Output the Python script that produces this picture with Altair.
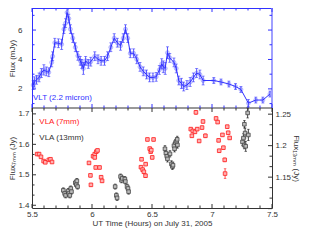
import altair as alt
import pandas as pd

# ---------------- data ----------------
vlt_t = [5.510, 5.519, 5.538, 5.559, 5.578, 5.599, 5.619, 5.640, 5.664, 5.672,
         5.690, 5.720, 5.747, 5.766, 5.780, 5.792, 5.807, 5.820, 5.840, 5.861,
         5.882, 5.902, 5.915, 5.928, 5.947, 5.969, 5.990, 6.023, 6.050, 6.076,
         6.104, 6.130, 6.157, 6.185, 6.211, 6.238, 6.260, 6.279, 6.298, 6.319,
         6.347, 6.373, 6.400, 6.427, 6.454, 6.480, 6.508, 6.535, 6.561, 6.581,
         6.594, 6.610, 6.629, 6.648, 6.683, 6.702, 6.723, 6.745, 6.764, 6.791,
         6.818, 6.845, 6.872, 6.899, 6.926, 7.015, 7.075, 7.141, 7.196, 7.241,
         7.303, 7.365, 7.424, 7.483]
vlt_v = [2.26, 2.47, 2.62, 2.78, 3.08, 3.29, 3.19, 3.13, 3.80, 4.22,
         5.14, 5.10, 5.03, 6.06, 6.47, 7.19, 6.78, 6.06, 5.45, 4.83,
         4.25, 3.91, 3.70, 3.39, 3.91, 3.70, 3.85, 4.22, 4.01, 3.91,
         3.91, 4.22, 4.83, 5.45, 5.14, 4.93, 5.45, 6.06, 5.45, 4.42,
         4.42, 4.01, 3.50, 3.19, 2.98, 2.78, 2.78, 2.82, 3.29, 3.70,
         3.50, 3.39, 4.46, 4.11, 3.80, 3.39, 2.57, 2.37, 2.16, 2.26,
         2.47, 2.78, 3.08, 2.98, 2.57, 2.57, 2.47, 2.33, 2.16, 1.96,
         1.03, 1.24, 1.24, 1.65]
vlt_e = [0.30, 0.35, 0.30, 0.30, 0.30, 0.35, 0.30, 0.30, 0.30, 0.30,
         0.30, 0.30, 0.35, 0.30, 0.30, 0.30, 0.30, 0.30, 0.30, 0.30,
         0.30, 0.30, 0.30, 0.40, 0.30, 0.30, 0.30, 0.30, 0.30, 0.30,
         0.30, 0.30, 0.30, 0.30, 0.30, 0.30, 0.30, 0.30, 0.30, 0.30,
         0.30, 0.30, 0.30, 0.30, 0.30, 0.30, 0.30, 0.30, 0.30, 0.35,
         0.40, 0.40, 0.40, 0.30, 0.30, 0.30, 0.30, 0.35, 0.30, 0.30,
         0.30, 0.30, 0.30, 0.30, 0.30, 0.20, 0.20, 0.20, 0.20, 0.20,
         0.25, 0.20, 0.20, 0.20]

red_t = [5.543, 5.559, 5.575, 5.597, 5.611, 5.640, 5.654, 5.667,
         5.975, 5.987, 5.991, 6.009, 6.023, 6.023, 6.036, 6.046, 6.031, 6.063, 6.076, 6.084,
         6.408, 6.413, 6.422, 6.432, 6.446, 6.447, 6.462, 6.481, 6.489, 6.494, 6.502, 6.513,
         6.823, 6.832, 6.840, 6.858, 6.866, 6.877, 6.893, 6.917, 6.925, 6.945,
         7.034, 7.047, 7.055, 7.060, 7.087, 7.095, 7.106, 7.109, 7.127, 7.135, 7.147]
red_v = [1.568, 1.568, 1.559, 1.545, 1.541, 1.549, 1.551, 1.542,
         1.539, 1.498, 1.467, 1.561, 1.568, 1.557, 1.576, 1.580, 1.524, 1.524, 1.492, 1.480,
         1.525, 1.551, 1.517, 1.510, 1.497, 1.535, 1.616, 1.586, 1.576, 1.581, 1.557, 1.616,
         1.650, 1.628, 1.644, 1.641, 1.705, 1.650, 1.611, 1.655, 1.675, 1.628,
         1.685, 1.673, 1.613, 1.579, 1.631, 1.589, 1.549, 1.504, 1.658, 1.638, 1.621]
red_e = [0.004, 0.004, 0.004, 0.004, 0.004, 0.004, 0.004, 0.004,
         0.005, 0.005, 0.005, 0.005, 0.005, 0.005, 0.005, 0.005, 0.005, 0.005, 0.005, 0.005,
         0.005, 0.005, 0.005, 0.005, 0.006, 0.005, 0.005, 0.005, 0.005, 0.005, 0.005, 0.005,
         0.005, 0.005, 0.005, 0.005, 0.006, 0.005, 0.005, 0.005, 0.005, 0.006,
         0.005, 0.005, 0.005, 0.005, 0.005, 0.005, 0.006, 0.016, 0.005, 0.005, 0.005]

blk_t = [5.761, 5.772, 5.780, 5.802, 5.807, 5.815, 5.823, 5.829, 5.861, 5.869, 5.874, 5.880,
         6.193, 6.203, 6.209, 6.238, 6.246, 6.252, 6.274, 6.278, 6.292, 6.300, 6.305,
         6.608, 6.616, 6.624, 6.629, 6.650, 6.662, 6.670, 6.675, 6.683, 6.688, 6.696, 6.705, 6.710, 6.712,
         7.254, 7.262, 7.268, 7.270, 7.276, 7.281, 7.297, 7.303]
blk_v = [1.129, 1.124, 1.121, 1.128, 1.124, 1.121, 1.132, 1.127, 1.141, 1.138, 1.144, 1.135,
         1.135, 1.121, 1.117, 1.151, 1.145, 1.148, 1.147, 1.143, 1.135, 1.132, 1.127,
         1.195, 1.188, 1.183, 1.179, 1.187, 1.171, 1.167, 1.169, 1.200, 1.195, 1.205, 1.207, 1.210, 1.201,
         1.206, 1.212, 1.201, 1.234, 1.220, 1.199, 1.252, 1.217]
blk_e = [0.004, 0.004, 0.004, 0.004, 0.004, 0.004, 0.004, 0.004, 0.004, 0.004, 0.004, 0.004,
         0.004, 0.004, 0.004, 0.004, 0.004, 0.004, 0.004, 0.004, 0.004, 0.004, 0.004,
         0.005, 0.005, 0.005, 0.005, 0.005, 0.005, 0.005, 0.005, 0.005, 0.005, 0.005, 0.005, 0.005, 0.005,
         0.006, 0.007, 0.006, 0.006, 0.008, 0.008, 0.008, 0.009]

x_major = [5.5, 6.0, 6.5, 7.0, 7.5]
x_minor = [5.6, 5.7, 5.8, 5.9, 6.1, 6.2, 6.3, 6.4, 6.6, 6.7, 6.8, 6.9, 7.1, 7.2, 7.3, 7.4]
vlt_major = [2, 4, 6]
vlt_minor = [1, 3, 5, 7]
mm7_major = [1.4, 1.5, 1.6, 1.7]
mm7_minor = [1.4333, 1.4667, 1.5333, 1.5667, 1.6333, 1.6667]
mm13_major = [1.1, 1.15, 1.2, 1.25]
mm13_minor = [1.1167, 1.1333, 1.1667, 1.1833, 1.2167, 1.2333]

labels_vlt = ["VLT (2.2 micron)"]
labels_vla = ["VLA (7mm)", "VLA (13mm)"]

# ---------------- styling ----------------
W, H = 240, 200
DIV = 100
BLUE = "#3030ff"
LBLUE = "#a0a0ff"
PBLUE = "#c4c8ff"
RED = "#ff2020"
PINK = "#ffb0b0"
DARK = "#333333"
FONT = "Liberation Sans"
FS = 8
MAJ, MIN = 4, 2.5

xs = alt.Scale(domain=[5.5, 7.5], nice=False, zero=False)
s_vlt = alt.Scale(domain=[0.70, 7.5], range=[DIV, 0], nice=False, zero=False)
s_7 = alt.Scale(domain=[1.391, 1.7193], range=[H, DIV], nice=False, zero=False)
s_13 = alt.Scale(domain=[1.101, 1.2598], range=[H, DIV], nice=False, zero=False)

x_axis = alt.Axis(orient="bottom", values=x_major, format="~g", ticks=False, domain=False,
                  grid=False, labelPadding=2, labelFont=FONT, labelFontSize=FS,
                  labelColor=DARK, labelFlush=False, labelOverlap=False,
                  title="UT Time (Hours) on July 31, 2005", titleFont=FONT,
                  titleFontSize=FS, titleColor=DARK, titleFontWeight="normal",
                  titlePadding=1)

# every layer carries the same x-axis definition so that the shared axis merges cleanly
X = alt.X("t:Q", scale=xs, axis=x_axis)


def frame_df():
    return pd.DataFrame({"d": [0]})


def series_layers(t, v, e, scale, kind, stroke, fill, ecolor, cap):
    df = pd.DataFrame({"t": t, "v": v,
                       "lo": [a - b for a, b in zip(v, e)],
                       "hi": [a + b for a, b in zip(v, e)]})
    base = alt.Chart(df)
    out = []
    if kind == "circle":
        out.append(base.mark_point(shape="circle", filled=True, size=16, fill=fill,
                                   stroke=stroke, strokeWidth=0.8, opacity=0.85)
                   .encode(x=X, y=alt.Y("v:Q", scale=scale, axis=None)))
        out.append(base.mark_line(color=BLUE, strokeWidth=1)
                   .encode(x=X, y=alt.Y("v:Q", scale=scale, axis=None)))
    out.append(base.mark_rule(color=ecolor, strokeWidth=0.8)
               .encode(x=X, y=alt.Y("lo:Q", scale=scale, axis=None), y2="hi:Q"))
    for f in ["lo", "hi"]:
        out.append(base.mark_tick(orient="horizontal", size=cap, thickness=0.8, color=ecolor)
                   .encode(x=X, y=alt.Y(f + ":Q", scale=scale, axis=None)))
    if kind == "square":
        out.append(base.mark_square(size=13, fill=fill, stroke=stroke, strokeWidth=0.8, opacity=1)
                   .encode(x=X, y=alt.Y("v:Q", scale=scale, axis=None)))
    return out


def xticks(vals, y0, y1, color):
    df = pd.DataFrame({"t": vals})
    return alt.Chart(df).mark_rule(color=color, strokeWidth=1).encode(
        x=X, y=alt.value(y0), y2=alt.value(y1))


def yticks(vals, scale, x0, x1, color, axis=None):
    df = pd.DataFrame({"v": vals})
    return alt.Chart(df).mark_rule(color=color, strokeWidth=1).encode(
        x=alt.value(x0), x2=alt.value(x1), y=alt.Y("v:Q", scale=scale, axis=axis))


def yaxis(orient, vals, title, lp, tp):
    return alt.Axis(orient=orient, values=vals, format="~g", ticks=False, domain=False,
                    grid=False, labelPadding=lp, labelFont=FONT, labelFontSize=FS,
                    labelColor=DARK, labelFlush=False, labelOverlap=False,
                    title=title, titleFont=FONT, titleFontSize=FS, titleColor=DARK,
                    titleFontWeight="normal", titlePadding=tp)


layers = []
# data series
layers += series_layers(vlt_t, vlt_v, vlt_e, s_vlt, "circle", LBLUE, PBLUE, BLUE, 3)
layers += series_layers(red_t, red_v, red_e, s_7, "square", RED, PINK, RED, 2.5)
layers += series_layers(blk_t, blk_v, blk_e, s_13, "square", "#444444", "#bbbbbb", "#111111", 2.5)

# annotations
layers.append(alt.Chart(pd.DataFrame({"t": [5.508], "v": [1.25], "label": labels_vlt}))
              .mark_text(align="left", baseline="alphabetic", font=FONT, fontSize=FS, color=BLUE)
              .encode(x=X, y=alt.Y("v:Q", scale=s_vlt, axis=None), text="label:N"))
layers.append(alt.Chart(pd.DataFrame({"t": [5.561], "v": [1.668], "label": [labels_vla[0]]}))
              .mark_text(align="left", baseline="alphabetic", font=FONT, fontSize=FS, color=RED)
              .encode(x=X, y=alt.Y("v:Q", scale=s_7, axis=None), text="label:N"))
layers.append(alt.Chart(pd.DataFrame({"t": [5.561], "v": [1.613], "label": [labels_vla[1]]}))
              .mark_text(align="left", baseline="alphabetic", font=FONT, fontSize=FS, color=DARK)
              .encode(x=X, y=alt.Y("v:Q", scale=s_7, axis=None), text="label:N"))

# frame of the two panels
layers.append(alt.Chart(frame_df()).mark_rule(color=BLUE, strokeWidth=1).encode(
    x=alt.value(0), x2=alt.value(W), y=alt.value(0.5)))
layers.append(alt.Chart(frame_df()).mark_rule(color=BLUE, strokeWidth=1).encode(
    x=alt.value(0.5), y=alt.value(0), y2=alt.value(DIV)))
layers.append(alt.Chart(frame_df()).mark_rule(color=LBLUE, strokeWidth=2).encode(
    x=alt.value(W), y=alt.value(0), y2=alt.value(DIV)))
layers.append(alt.Chart(frame_df()).mark_rule(color=DARK, strokeWidth=1).encode(
    x=alt.value(0), x2=alt.value(W), y=alt.value(DIV)))

# inward ticks
layers.append(xticks(x_major, H, H - MAJ, DARK))
layers.append(xticks(x_minor, H, H - MIN, DARK))
layers.append(xticks(x_major, DIV, DIV + MAJ, DARK))
layers.append(xticks(x_minor, DIV, DIV + MIN, DARK))
layers.append(xticks(x_major, DIV, DIV - MAJ, BLUE))
layers.append(xticks(x_minor, DIV, DIV - MIN, BLUE))
layers.append(xticks(x_major, 0, MAJ, BLUE))
layers.append(xticks(x_minor, 0, MIN, BLUE))

layers.append(yticks(vlt_major, s_vlt, 0, MAJ, BLUE,
                     axis=yaxis("left", vlt_major, "Flux (mJy)", 10, 1.5)))
layers.append(yticks(vlt_minor, s_vlt, 0, MIN, BLUE))
layers.append(yticks(vlt_major, s_vlt, W - MAJ, W, BLUE))
layers.append(yticks(vlt_minor, s_vlt, W - MIN, W, BLUE))

layers.append(yticks(mm7_major, s_7, 0, MAJ, DARK,
                     axis=yaxis("left", mm7_major, "Flux\u2087\u2098\u2098 (Jy)", 3, 1.5)))
layers.append(yticks(mm7_minor, s_7, 0, MIN, DARK))
layers.append(yticks(mm13_major, s_13, W - MAJ, W, DARK,
                     axis=yaxis("right", mm13_major, "Flux\u2081\u2083\u2098\u2098 (Jy)", 3, 1)))
layers.append(yticks(mm13_minor, s_13, W - MIN, W, DARK))

chart = (alt.layer(*layers)
         .resolve_scale(y="independent")
         .properties(width=W, height=H,
                     autosize=alt.AutoSizeParams(type="none"),
                     padding={"left": 24, "top": 0, "right": 29, "bottom": 21})
         .configure_view(stroke=DARK, strokeWidth=1))

chart.save("out.html", embed_options={"renderer": "svg", "actions": False})
